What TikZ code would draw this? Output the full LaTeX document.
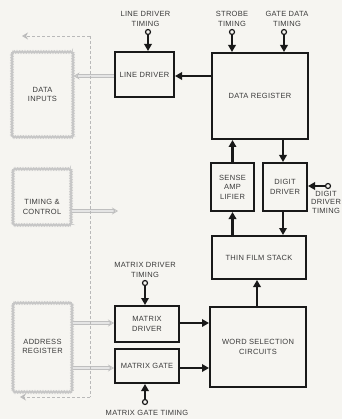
\documentclass[tikz,border=0pt]{standalone}
\usepackage{fontspec}
\setmainfont{Liberation Sans}[LetterSpace=4]
\usetikzlibrary{arrows.meta,decorations.pathmorphing}
\definecolor{paper}{RGB}{246,245,241}
\definecolor{ink}{RGB}{25,25,25}
\begin{document}
\begin{tikzpicture}[x=1pt,y=-1pt,
 every node/.style={font=\fontsize{7.5}{9.5}\selectfont, text=ink!85},
 box/.style={draw=ink, line width=2pt, inner sep=0pt, align=center},
 graybox/.style={draw=gray!45, line width=1pt, decorate, decoration={zigzag,segment length=1.6pt,amplitude=0.9pt}, inner sep=0pt, align=center},
 lbl/.style={align=center, inner sep=0pt},
 blk/.style={draw=ink, line width=2.6pt, -{Triangle[length=7pt,width=7.5pt]}},
 term/.style={circle, draw=ink, line width=1.2pt, minimum size=5pt, inner sep=0pt, fill=paper},
 garrow/.style={draw=gray!50, double=gray!20, double distance=1.3pt, line width=0.9pt, -{Stealth[open, length=6pt, width=7pt]}},
 gdash/.style={draw=gray!55, line width=0.7pt, dash pattern=on 3pt off 2pt},
 ghead/.style={-{Stealth[open, length=6pt, width=7pt, line width=1pt]}}
]
\fill[paper] (0,0) rectangle (342,419);
\useasboundingbox (0,0) rectangle (342,419);

% helper coordinates
\coordinate (y76) at (0,76);
\coordinate (y211) at (0,211);
\coordinate (y323) at (0,323);
\coordinate (y368) at (0,368);
\coordinate (c283) at (283,0);
\coordinate (c257) at (257,0);

% gray boxes
\node[graybox, minimum width=61pt, minimum height=85pt] (datainputs) at (42.5,94.5) {};
\node[lbl] (ditxt) at (42.5,94.5) {DATA\\INPUTS};
\node[graybox, minimum width=58pt, minimum height=56pt] (timing) at (42,197) {};
\node[lbl] (tctxt) at (42,207) {TIMING \&\\CONTROL};
\node[graybox, minimum width=59pt, minimum height=89pt] (address) at (42.5,347.5) {};
\node[lbl] (artxt) at (42.5,346.5) {ADDRESS\\REGISTER};

% black boxes
\node[box, minimum width=59pt, minimum height=45pt] (linedriver) at (144.5,74.5) {LINE DRIVER};
\node[box, minimum width=64pt, minimum height=36pt] (matrixdrv) at (147,324) {MATRIX\\DRIVER};
\node[box, minimum width=64pt, minimum height=34pt] (matrixgate) at (147,366) {MATRIX GATE};
\node[box, minimum width=96pt, minimum height=86pt] (dataregister) at (260,96) {DATA REGISTER};
\node[box, minimum width=43pt, minimum height=48pt] (senseamp) at (232.5,187) {SENSE\\AMP\\LIFIER};
\node[box, minimum width=44pt, minimum height=48pt] (digitdriver) at (285,187) {DIGIT\\DRIVER};
\node[box, minimum width=94pt, minimum height=43pt] (thinfilm) at (259,257.5) {THIN FILM STACK};
\node[box, minimum width=96pt, minimum height=80pt] (wordsel) at (258,347) {WORD SELECTION\\CIRCUITS};

% timing labels
\node[lbl] (ldtl) at (145.5,19) {LINE DRIVER\\TIMING};
\node[lbl] (stl) at (232,19) {STROBE\\TIMING};
\node[lbl] (gdtl) at (287,19) {GATE DATA\\TIMING};
\node[lbl, font=\fontsize{7.5}{8.5}\selectfont] (ddtl) at (326,202) {DIGIT\\DRIVER\\TIMING};
\node[lbl] (mdtl) at (145,270) {MATRIX DRIVER\\TIMING};
\node[lbl] (mgtl) at (147,413) {MATRIX GATE TIMING};

% terminals
\node[term] (ldt) at (148,32) {};
\node[term] (st) at (232,32) {};
\node[term] (gdt) at (284,32) {};
\node[term] (ddt) at (328,186) {};
\node[term] (mdt) at (145,283) {};
\node[term] (mgt) at (145,402) {};

% timing arrows
\draw[blk] (ldt) -- (linedriver.north -| ldt);
\draw[blk] (st) -- (dataregister.north -| st);
\draw[blk] (gdt) -- (dataregister.north -| gdt);
\draw[blk] (ddt) -- (digitdriver.east |- ddt);
\draw[blk] (mdt) -- (matrixdrv.north -| mdt);
\draw[blk] (mgt) -- (matrixgate.south -| mgt);

% black data arrows
\draw[blk] (dataregister.west |- y76) -- (linedriver.east |- y76);
\draw[blk] (senseamp.north) -- (dataregister.south -| senseamp.north);
\draw[blk] (dataregister.south -| c283) -- (digitdriver.north -| c283);
\draw[blk] (thinfilm.north -| senseamp.south) -- (senseamp.south);
\draw[blk] (digitdriver.south -| c283) -- (thinfilm.north -| c283);
\draw[blk] (wordsel.north -| c257) -- (thinfilm.south -| c257);
\draw[blk] (matrixdrv.east |- y323) -- (wordsel.west |- y323);
\draw[blk] (matrixgate.east |- y368) -- (wordsel.west |- y368);

% gray arrows
\coordinate (tcend) at (118,211);
\draw[garrow] (linedriver.west |- y76) -- (datainputs.east |- y76);
\draw[garrow] (timing.east |- y211) -- (tcend);
\draw[garrow] (address.east |- y323) -- (matrixdrv.west |- y323);
\draw[garrow] (address.east |- y368) -- (matrixgate.west |- y368);

% dashed bus
\coordinate (dtop) at (90,36);
\coordinate (dbot) at (90,397);
\coordinate (dtl) at (22,36);
\coordinate (dbl) at (20,397);
\draw[gdash] (dtop) -- (dbot);
\draw[gdash, ghead] (dtop) -- (dtl);
\draw[gdash, ghead] (dbot) -- (dbl);
\end{tikzpicture}
\end{document}
